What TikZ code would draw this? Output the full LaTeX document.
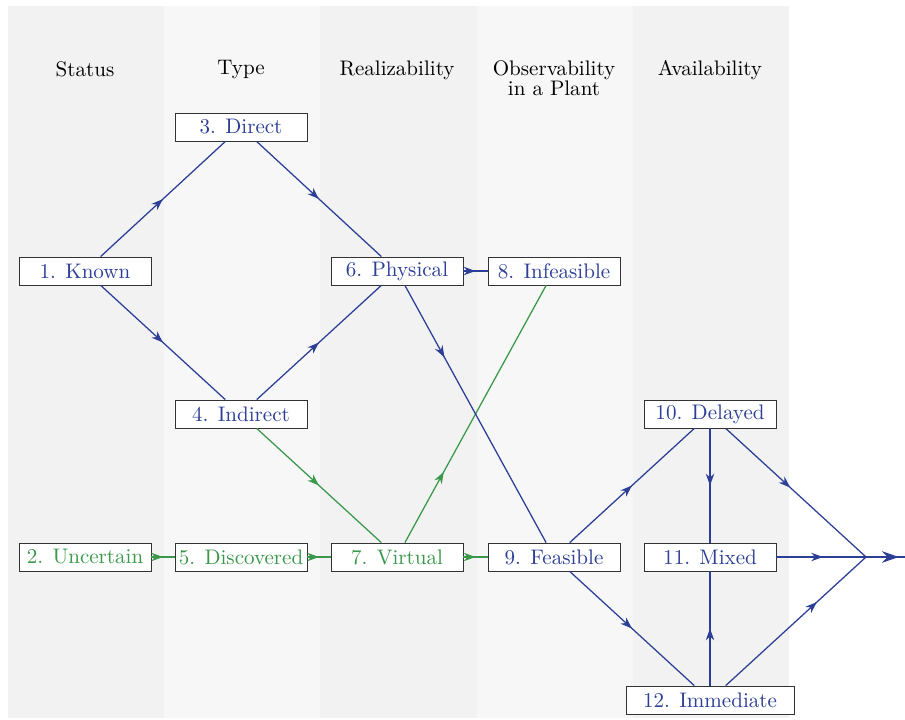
\documentclass[tikz,border=0pt]{standalone}
\usepackage{xcolor}
\usepackage{tikz}
\usetikzlibrary{arrows.meta,decorations.markings}

\definecolor{bandA}{gray}{0.95}
\definecolor{bandB}{gray}{0.97}
\definecolor{pathblue}{RGB}{44,62,150}
\definecolor{pathgreen}{RGB}{58,152,74}

\begin{document}
\begin{tikzpicture}[x=0.475pt,y=-0.475pt,
  box/.style={draw=black!80,fill=white,line width=0.4pt,minimum width=62.7pt,minimum height=13.3pt,inner sep=0pt},
  hdr/.style={anchor=north,inner sep=0pt,align=center},
  midarr/.style={postaction={decorate,decoration={markings,mark=at position #1 with {\arrow{Stealth[length=5.6pt,width=4pt]}}}}},
  midarr/.default=0.5,
  bl/.style={pathblue,line width=0.6pt},
  gr/.style={pathgreen,line width=0.6pt}]
		\useasboundingbox (0,0) rectangle (905,719);
		\foreach \i/\c in {0/bandA,1/bandB,2/bandA,3/bandB,4/bandA}
			\fill[\c] ({8+156.2*\i},6) rectangle ({164.4+156.2*\i},718);
		\node[hdr] (hstatus) at (85,61) {Status};
		\node[hdr] (htype) at (241,60) {Type};
		\node[hdr] (hreal) at (397,60) {Realizability};
		\node[hdr] (hobs) at (554,60) {Observability\\[-2.5pt]in a Plant};
		\node[hdr] (havail) at (710,60) {Availability};
		\node[box,text=pathblue] (known) at (85,271) {1. Known};
		\node[box,text=pathgreen] (uncertain) at (85,557) {2. Uncertain};
		\node[box,text=pathblue] (direct) at (241,127) {3. Direct};
		\node[box,text=pathblue] (indirect) at (241,414) {4. Indirect};
		\node[box,text=pathgreen] (discovered) at (241,557) {5. Discovered};
		\node[box,text=pathblue] (physical) at (397,271) {6. Physical};
		\node[box,text=pathgreen] (virtual) at (397,557) {7. Virtual};
		\node[box,text=pathblue] (infeasible) at (554,271) {8. Infeasible};
		\node[box,text=pathblue] (feasible) at (554,557) {9. Feasible};
		\node[box,text=pathblue] (delayed) at (710,414) {10. Delayed};
		\node[box,text=pathblue] (mixed) at (710,557) {11. Mixed};
		\node[box,text=pathblue,minimum width=79.8pt] (immediate) at (710,700) {12. Immediate};
		\coordinate (merge) at (866,557);
		\coordinate (exit) at (906,557);
		\draw[bl,midarr] (known) -- (direct);
		\draw[bl,midarr] (known) -- (indirect);
		\draw[bl,midarr] (direct) -- (physical);
		\draw[bl,midarr] (indirect) -- (physical);
		\draw[gr,midarr] (indirect) -- (virtual);
		\draw[gr,midarr] (uncertain) -- (discovered);
		\draw[gr,midarr] (discovered) -- (virtual);
		\draw[gr,midarr] (virtual) -- (feasible);
		\draw[gr,midarr=0.275] (virtual) -- (infeasible);
		\draw[bl,midarr] (physical) -- (infeasible);
		\draw[bl,midarr=0.28] (physical) -- (feasible);
		\draw[bl,midarr] (feasible) -- (delayed);
		\draw[bl,midarr] (feasible) -- (immediate);
		\draw[bl,midarr] (delayed) -- (mixed);
		\draw[bl,midarr] (immediate) -- (mixed);
		\draw[bl,midarr=0.46] (delayed) -- (merge);
		\draw[bl,midarr=0.52] (mixed) -- (merge);
		\draw[bl,midarr=0.65] (immediate) -- (merge);
		\draw[bl,postaction={decorate,decoration={markings,mark=at position 0.82 with {\arrow{Stealth[length=8pt,width=5.5pt]}}}}] (merge) -- (exit);
	\end{tikzpicture}
\end{document}
